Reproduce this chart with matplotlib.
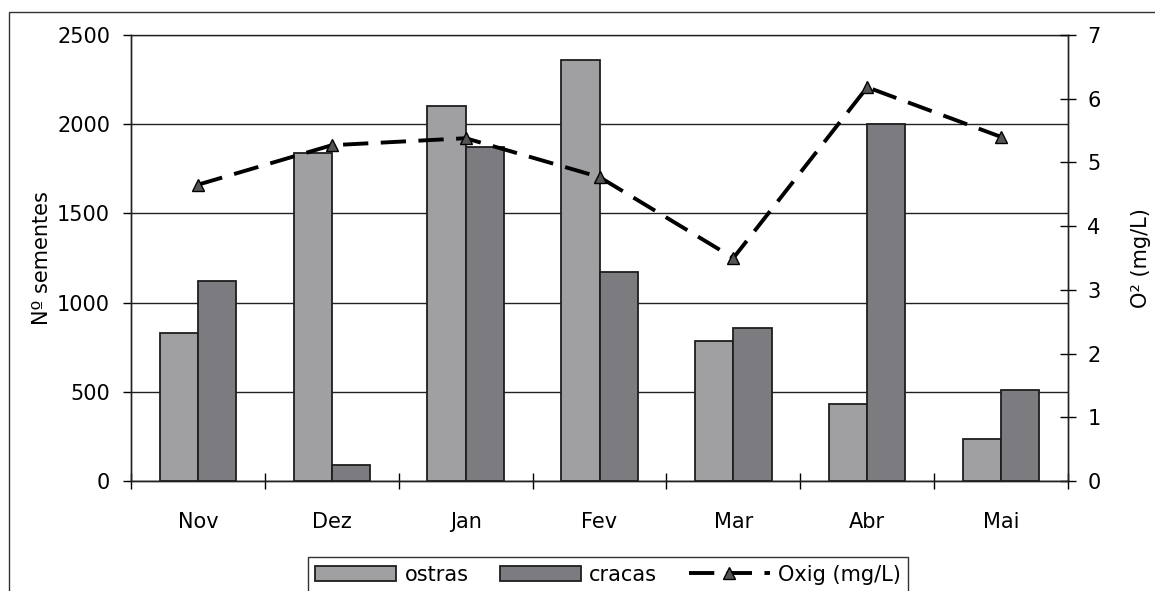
import matplotlib
matplotlib.use("Agg")
import matplotlib.pyplot as plt
import numpy as np
from matplotlib.patches import Rectangle

months = ["Nov", "Dez", "Jan", "Fev", "Mar", "Abr", "Mai"]
ostras = [830, 1840, 2100, 2360, 785, 430, 235]
cracas = [1120, 90, 1870, 1170, 860, 2000, 510]
oxig = [4.65, 5.27, 5.38, 4.77, 3.5, 6.18, 5.4]

plt.rcParams['font.family'] = ['DejaVu Sans']
FS = 15

fig = plt.figure(figsize=(11.55, 5.91), dpi=100)
ax = fig.add_axes([0.1134, 0.1861, 0.9247 - 0.1134, 0.9408 - 0.1861])

x = np.arange(len(months))
w = 1 / 3.5
c_ostras = "#a0a0a3"
c_cracas = "#7c7c80"
b1 = ax.bar(x - w / 2, ostras, w, color=c_ostras, edgecolor="#1e1e1e", linewidth=1.3, label="ostras", zorder=3)
b2 = ax.bar(x + w / 2, cracas, w, color=c_cracas, edgecolor="#1e1e1e", linewidth=1.3, label="cracas", zorder=3)

ax.set_xlim(-0.5, len(months) - 0.5)
ax.set_ylim(0, 2500)
ax.set_yticks(np.arange(0, 2501, 500))
ax.yaxis.grid(True, color="#222222", linewidth=1.0, zorder=0)
ax.set_axisbelow(True)
ax.set_xticks(x)
ax.set_xticklabels(months, fontsize=FS)
ax.tick_params(axis="x", length=0, pad=22)
ax.set_xticks(np.arange(-0.5, len(months)), minor=True)
ax.tick_params(axis="x", which="minor", length=12, direction="inout", width=1)
ax.tick_params(axis="y", labelsize=FS, length=6, width=1, direction="out", pad=9)
ax.set_ylabel("Nº sementes", fontsize=FS, labelpad=4)
for s in ax.spines.values():
    s.set_linewidth(1.0)
    s.set_color("#222222")
ax.spines["top"].set_visible(False)

ax2 = ax.twinx()
ax2.set_ylim(0, 7)
ax2.set_yticks(np.arange(0, 8, 1))
ax2.tick_params(axis="y", labelsize=FS, length=12, width=1, direction="inout", pad=8)
l, = ax2.plot(x, oxig, color="black", linestyle=(0, (6.5, 3.2)), linewidth=2.8,
              marker="^", markersize=9, markerfacecolor="#555555", markeredgecolor="black",
              label="Oxig (mg/L)", zorder=5)
ax2.set_ylabel("O² (mg/L)", fontsize=FS, labelpad=22)
ax2.spines["top"].set_visible(False)
for s in ax2.spines.values():
    s.set_linewidth(1.0)
    s.set_color("#222222")

ax.axhline(2500, color="#222222", linewidth=1.0, zorder=1, clip_on=False)

leg = fig.legend(handles=[b1, b2, l], loc="upper center", bbox_to_anchor=(608 / 1155, 1 - 547 / 591),
                 ncol=3, fontsize=FS, frameon=True, fancybox=False, edgecolor="black",
                 handlelength=3.9, columnspacing=1.5, handletextpad=0.4, borderpad=0.35)
leg.get_frame().set_linewidth(1.0)

fig.patches.append(Rectangle((9 / 1155, -0.05), 1.1, 1.05 - 12 / 591,
                             transform=fig.transFigure, fill=False, edgecolor="#333333", linewidth=1.0))

fig.savefig("out.png", dpi=100)
